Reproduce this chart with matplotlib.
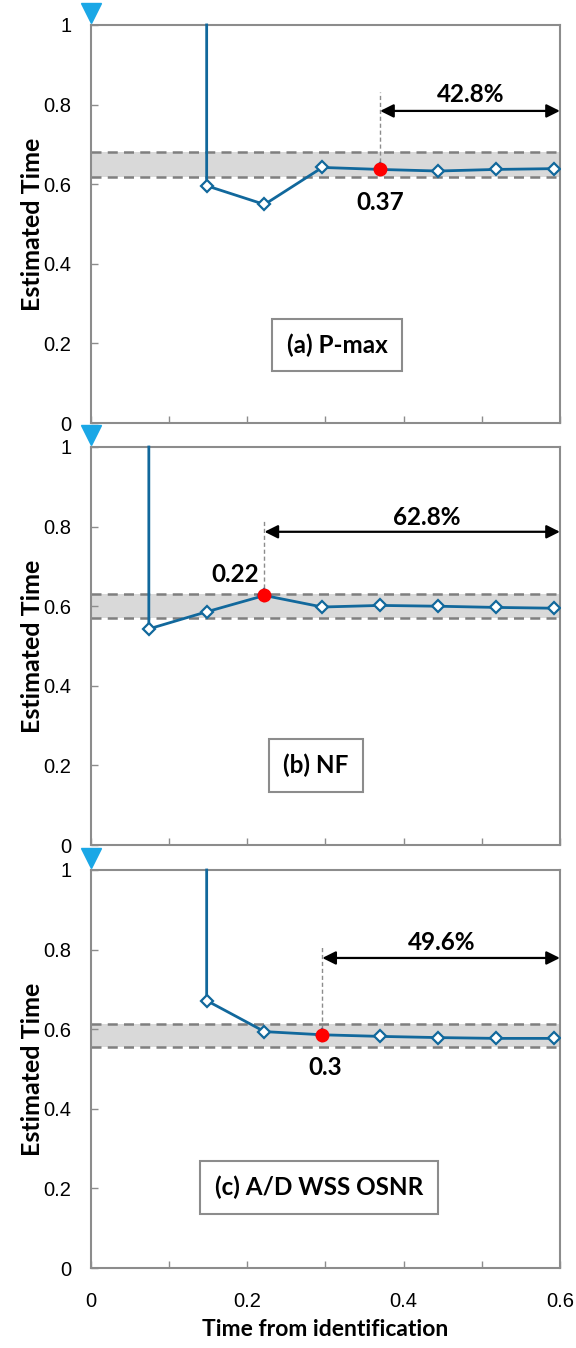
import matplotlib
matplotlib.use("Agg")
import matplotlib.pyplot as plt

# ---- data ----
x_steps = [0.074, 0.148, 0.222, 0.296, 0.37, 0.444, 0.518, 0.592]

a_x = x_steps[1:]
a_y = [0.596, 0.549, 0.642, 0.637, 0.633, 0.637, 0.639]
a_band = (0.617, 0.681)
a_pick = 0.37
a_pct = "42.8%"
a_name = "(a) P-max"

b_x = x_steps
b_y = [0.543, 0.586, 0.627, 0.598, 0.602, 0.600, 0.597, 0.595]
b_band = (0.571, 0.631)
b_pick = 0.222
b_pct = "62.8%"
b_name = "(b) NF"

c_x = x_steps[1:]
c_y = [0.672, 0.594, 0.586, 0.582, 0.579, 0.577, 0.577]
c_band = (0.556, 0.614)
c_pick = 0.296
c_pct = "49.6%"
c_name = "(c) A/D WSS OSNR"

# label texts / layout per panel
panels = [
    dict(x=a_x, y=a_y, band=a_band, pick=a_pick, pick_lbl="0.37", pct=a_pct,
         name=a_name, arrow_y=0.784, dash_top=0.832, pct_xy=(0.486, 0.824),
         lbl_xy=(0.37, 0.553), box_xy=(0.315, 0.196)),
    dict(x=b_x, y=b_y, band=b_band, pick=b_pick, pick_lbl="0.22", pct=b_pct,
         name=b_name, arrow_y=0.787, dash_top=0.82, pct_xy=(0.43, 0.823),
         lbl_xy=(0.184, 0.679), box_xy=(0.288, 0.2)),
    dict(x=c_x, y=c_y, band=c_band, pick=c_pick, pick_lbl="0.3", pct=c_pct,
         name=c_name, arrow_y=0.779, dash_top=0.812, pct_xy=(0.449, 0.817),
         lbl_xy=(0.3, 0.504), box_xy=(0.292, 0.203)),
]

BLUE = "#11689c"
GRID = "#8c8c8c"
LBL = ["Lato", "DejaVu Sans"]
plt.rcParams["font.family"] = ["Liberation Sans", "DejaVu Sans"]

fig = plt.figure(figsize=(5.76, 13.48), dpi=100)
tops = [0.9815, 0.6684, 0.3546]
h = 0.2953
axes = []
for i, p in enumerate(panels):
    ax = fig.add_axes([0.158, tops[i] - h, 0.814, h])
    axes.append(ax)
    ax.set_xlim(0, 0.6)
    ax.set_ylim(0, 1)

    # tolerance band
    lo, hi = p["band"]
    ax.axhspan(lo, hi, color="#d9d9d9", lw=0, zorder=1)
    for v in (lo, hi):
        ax.axhline(v, color="#7f7f7f", lw=1.8, ls=(0, (4, 2.5)), zorder=2)

    # series: drop from the top, then the estimates
    xs = [p["x"][0]] + list(p["x"])
    ys = [1.0] + list(p["y"])
    ax.plot(xs, ys, color=BLUE, lw=2, zorder=3, clip_on=False)
    ax.plot(p["x"], p["y"], ls="none", marker="D", ms=6.5, mfc="white",
            mec=BLUE, mew=1.6, zorder=4)
    k = p["x"].index(p["pick"])
    ax.plot(p["pick"], p["y"][k], "o", color="#ff0000", ms=9, zorder=5)

    # dashed marker line + span arrow
    ax.plot([p["pick"], p["pick"]], [p["y"][k], p["dash_top"]], color="#8c8c8c",
            lw=1, ls=(0, (3, 2)), zorder=2)
    ax.annotate("", xy=(0.6, p["arrow_y"]), xytext=(p["pick"], p["arrow_y"]),
                arrowprops=dict(arrowstyle="<|-|>", color="black", lw=1.6,
                                mutation_scale=20, shrinkA=0, shrinkB=0),
                annotation_clip=False)
    ax.text(*p["pct_xy"], p["pct"], ha="center", va="center", fontsize=17.5,
            fontweight="bold", family=LBL)
    ax.text(*p["lbl_xy"], p["pick_lbl"], ha="center", va="center", fontsize=17.5,
            fontweight="bold", family=LBL)
    ax.text(*p["box_xy"], p["name"], ha="center", va="center", fontsize=17.5,
            fontweight="bold", family=LBL,
            bbox=dict(boxstyle="square,pad=0.6", fc="white", ec="#8c8c8c", lw=1.5))

    # start marker
    ax.plot(0, 1.03, marker="v", color="#1aa7e6", ms=14, clip_on=False, zorder=6)

    ax.set_xticks([0, 0.1, 0.2, 0.3, 0.4, 0.5, 0.6])
    ax.set_yticks([0, 0.2, 0.4, 0.6, 0.8, 1.0])
    ax.set_yticklabels(["0", "0.2", "0.4", "0.6", "0.8", "1"])
    ax.tick_params(direction="in", length=5, width=1, color=GRID,
                   labelsize=14.5, pad=14)
    ax.tick_params(axis="x", pad=17)
    if i < 2:
        ax.tick_params(axis="x", labelbottom=False)
    else:
        ax.set_xticklabels(["0", "", "0.2", "", "0.4", "", "0.6"])
    for s in ax.spines.values():
        s.set_color(GRID)
        s.set_linewidth(1.5)
    ax.set_ylabel("Estimated Time", fontsize=18, fontweight="bold",
                  family=LBL, labelpad=0)

axes[2].set_xlabel("Time from identification", fontsize=16.5, fontweight="bold",
                   family=LBL, labelpad=6)
fig.savefig("out.png", dpi=100)
